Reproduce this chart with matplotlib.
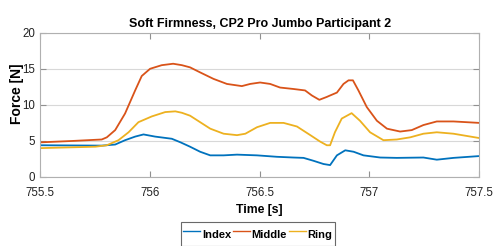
import matplotlib
matplotlib.use("Agg")
import matplotlib.pyplot as plt

plt.rcParams['font.family'] = ['Liberation Sans', 'DejaVu Sans']

# Index finger
t_index = [755.5, 755.781, 755.842, 755.887, 755.933, 755.971, 756.024, 756.100, 756.14,
           756.183, 756.229, 756.275, 756.336, 756.397, 756.488, 756.579, 756.654, 756.700,
           756.745, 756.791, 756.821, 756.852, 756.890, 756.928, 756.973, 757.049, 757.125,
           757.246, 757.307, 757.383, 757.5]
f_index = [4.4, 4.35, 4.5, 5.1, 5.6, 5.9, 5.6, 5.3, 4.8,
           4.2, 3.5, 3.0, 3.0, 3.1, 3.0, 2.8, 2.7, 2.65,
           2.25, 1.8, 1.65, 3.0, 3.7, 3.5, 3.0, 2.7, 2.65,
           2.7, 2.4, 2.65, 2.9]

# Middle finger
t_middle = [755.5, 755.65, 755.781, 755.804, 755.842, 755.887, 755.933, 755.963, 756.001,
            756.054, 756.106, 756.146, 756.183, 756.229, 756.290, 756.351, 756.419, 756.457,
            756.502, 756.548, 756.593, 756.654, 756.707, 756.738, 756.772, 756.806, 756.821,
            756.852, 756.882, 756.905, 756.925, 756.950, 756.988, 757.034, 757.080, 757.140,
            757.193, 757.246, 757.307, 757.383, 757.5]
f_middle = [4.8, 5.0, 5.2, 5.5, 6.5, 8.8, 12.0, 14.0, 15.0,
            15.5, 15.7, 15.5, 15.2, 14.5, 13.6, 12.9, 12.6, 12.9,
            13.1, 12.9, 12.4, 12.2, 12.0, 11.3, 10.7, 11.1, 11.3,
            11.7, 12.9, 13.4, 13.4, 12.0, 9.7, 7.8, 6.7, 6.3,
            6.5, 7.2, 7.7, 7.7, 7.5]

# Ring finger
t_ring = [755.5, 755.752, 755.804, 755.857, 755.903, 755.948, 756.009, 756.070, 756.116,
          756.146, 756.183, 756.229, 756.275, 756.336, 756.397, 756.435, 756.488, 756.548,
          756.609, 756.670, 756.731, 756.776, 756.806, 756.821, 756.843, 756.874, 756.919,
          756.957, 757.003, 757.064, 757.125, 757.186, 757.246, 757.307, 757.383, 757.5]
f_ring = [4.0, 4.2, 4.4, 5.1, 6.2, 7.6, 8.4, 9.0, 9.1,
          8.9, 8.5, 7.6, 6.7, 6.0, 5.8, 6.0, 6.9, 7.5,
          7.5, 7.0, 5.8, 4.9, 4.4, 4.4, 6.2, 8.1, 8.85,
          7.8, 6.2, 5.1, 5.2, 5.5, 6.0, 6.2, 6.0, 5.4]

x_ticks = [755.5, 756, 756.5, 757, 757.5]
x_tick_labels = ["755.5", "756", "756.5", "757", "757.5"]
y_ticks = [0, 5, 10, 15, 20]

fig = plt.figure(figsize=(4.95, 2.46), dpi=100)
ax = fig.add_axes([0.081, 0.2805, 0.887, 0.5865])

ax.plot(t_index, f_index, color="#0072BD", lw=1.3, label="Index")
ax.plot(t_middle, f_middle, color="#D95319", lw=1.3, label="Middle")
ax.plot(t_ring, f_ring, color="#EDB120", lw=1.3, label="Ring")

ax.set_xlim(755.5, 757.5)
ax.set_ylim(0, 20)
ax.set_xticks(x_ticks)
ax.set_xticklabels(x_tick_labels)
ax.set_yticks(y_ticks)
ax.yaxis.grid(True, color="#d8d8d8", lw=0.8)
ax.set_axisbelow(True)
ax.tick_params(direction="in", length=4, top=True, right=True, labelsize=8.3,
               color="#909090", labelcolor="#222222")
ax.tick_params(axis="x", pad=7)
ax.tick_params(axis="y", pad=3.5)
for s in ax.spines.values():
    s.set_color("#b0b0b0")
    s.set_linewidth(0.8)

ax.set_title("Soft Firmness, CP2 Pro Jumbo Participant 2", fontsize=9,
             fontweight="bold", pad=4)
ax.set_xlabel("Time [s]", fontsize=8.8, fontweight="bold")
ax.set_ylabel("Force [N]", fontsize=10, fontweight="bold")
ax.xaxis.set_label_coords(0.5, -0.185)
ax.yaxis.set_label_coords(-0.037, 0.575)

leg = fig.legend(loc="upper center", bbox_to_anchor=(0.521, 0.0976), ncol=3,
                 fontsize=8, frameon=True, fancybox=False, handlelength=1.5,
                 handleheight=2.2, handletextpad=0.15, columnspacing=0.2,
                 borderpad=0.25, borderaxespad=0)
leg.get_frame().set_edgecolor("#444444")
leg.get_frame().set_linewidth(0.8)
for line in leg.get_lines():
    line.set_linewidth(1.0)
for txt in leg.get_texts():
    txt.set_fontweight("bold")

fig.savefig("out.png", dpi=100)
